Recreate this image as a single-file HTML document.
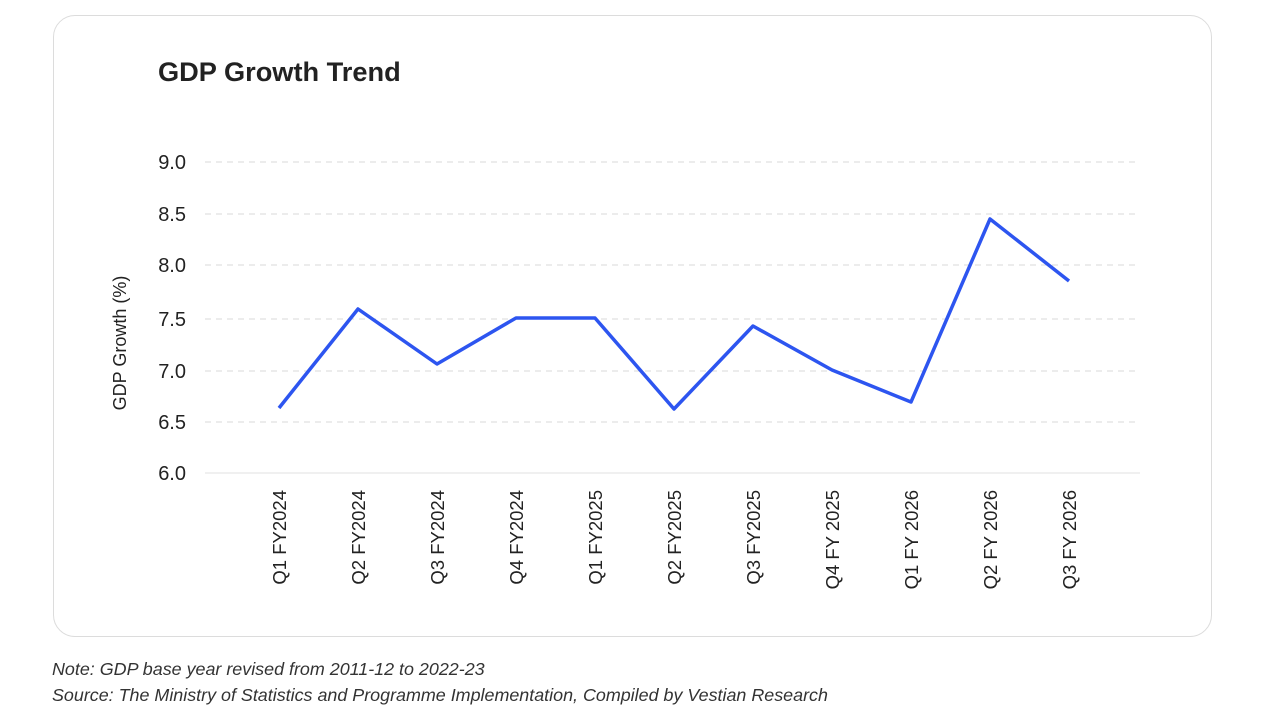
<!DOCTYPE html>
<html><head><meta charset="utf-8"><style>
body{margin:0;background:#fff;width:1280px;height:720px;overflow:hidden;font-family:"Liberation Sans",sans-serif}
.card{position:absolute;left:53px;top:15px;width:1159px;height:622px;border:1px solid #dcdcdc;border-radius:22px;box-sizing:border-box}
.note{position:absolute;left:52px;font-style:italic;font-size:17.9px;color:#333}
</style></head><body>
<div class="card"></div>
<svg width="1280" height="720" style="position:absolute;left:0;top:0" font-family="Liberation Sans, sans-serif">
<text x="158" y="81" font-size="27.2" font-weight="bold" fill="#222">GDP Growth Trend</text>
<g stroke="#d8d8d8" stroke-width="1" stroke-dasharray="6,5">
<line x1="205" x2="1140" y1="162" y2="162"/>
<line x1="205" x2="1140" y1="214" y2="214"/>
<line x1="205" x2="1140" y1="265" y2="265"/>
<line x1="205" x2="1140" y1="319" y2="319"/>
<line x1="205" x2="1140" y1="371" y2="371"/>
<line x1="205" x2="1140" y1="422" y2="422"/>
</g>
<line x1="205" x2="1140" y1="473" y2="473" stroke="#e0e0e0"/>
<g font-size="20" fill="#222" text-anchor="end">
<text x="186" y="169">9.0</text><text x="186" y="221">8.5</text><text x="186" y="272">8.0</text>
<text x="186" y="326">7.5</text><text x="186" y="378">7.0</text><text x="186" y="429">6.5</text><text x="186" y="480">6.0</text>
</g>
<text transform="translate(126,343) rotate(-90)" font-size="18" fill="#222" text-anchor="middle">GDP Growth (%)</text>
<polyline fill="none" stroke="#2d55f0" stroke-width="3.5" stroke-linejoin="round" points="279,408 358,309 437,364 516,318 595,318 674,409 753,326 832,370 911,402 990,219 1069,281"/>
<g font-size="18.5" fill="#222" text-anchor="end">
<text transform="translate(286,490) rotate(-90)">Q1 FY2024</text>
<text transform="translate(365,490) rotate(-90)">Q2 FY2024</text>
<text transform="translate(444,490) rotate(-90)">Q3 FY2024</text>
<text transform="translate(523,490) rotate(-90)">Q4 FY2024</text>
<text transform="translate(602,490) rotate(-90)">Q1 FY2025</text>
<text transform="translate(681,490) rotate(-90)">Q2 FY2025</text>
<text transform="translate(760,490) rotate(-90)">Q3 FY2025</text>
<text transform="translate(839,490) rotate(-90)">Q4 FY 2025</text>
<text transform="translate(918,490) rotate(-90)">Q1 FY 2026</text>
<text transform="translate(997,490) rotate(-90)">Q2 FY 2026</text>
<text transform="translate(1076,490) rotate(-90)">Q3 FY 2026</text>
</g>
</svg>
<div class="note" style="top:659px">Note: GDP base year revised from 2011-12 to 2022-23</div>
<div class="note" style="top:685px">Source: The Ministry of Statistics and Programme Implementation, Compiled by Vestian Research</div>
</body></html>
